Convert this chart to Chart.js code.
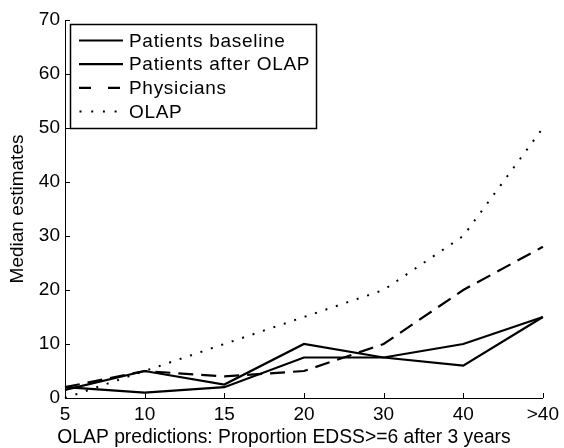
<!DOCTYPE html>
<html>
<head>
<meta charset="utf-8">
<script src="https://cdn.jsdelivr.net/npm/chart.js@4.4.0/dist/chart.umd.min.js"></script>
<style>
  body { margin: 0; background: #fff; }
  #wrap { position: relative; width: 564px; height: 448px; }
</style>
</head>
<body>
<div id="wrap"><canvas id="c"></canvas></div>
<script>
const categories = ['5', '10', '15', '20', '30', '40', '>40'];
const patientsBaseline = [1.5, 5, 2.5, 10, 7.5, 6, 15];
const patientsAfterOlap = [2, 1, 2, 7.5, 7.5, 10, 15];
const physicians = [2, 5, 4, 5, 10, 20, 28];
const olap = [0, 5, 10, 15, 20, 30, 50];
const yTicks = [0, 10, 20, 30, 40, 50, 60, 70];
const xTitle = 'OLAP predictions: Proportion EDSS>=6 after 3 years';

const FONT = 'Liberation Sans, Arial, Helvetica, sans-serif';

// inward ticks, matlab style
const innerTicks = {
  id: 'innerTicks',
  afterDraw(chart) {
    const ctx = chart.ctx;
    const x = chart.scales.x, y = chart.scales.y;
    const a = chart.chartArea;
    ctx.save();
    ctx.strokeStyle = '#000';
    ctx.lineWidth = 1;
    ctx.beginPath();
    x.ticks.forEach((t, i) => {
      const px = Math.round(x.getPixelForTick(i)) + 0.5;
      ctx.moveTo(px, a.bottom);
      ctx.lineTo(px, a.bottom - 5);
    });
    y.ticks.forEach((t, i) => {
      const py = Math.round(y.getPixelForTick(i)) + 0.5;
      ctx.moveTo(a.left, py);
      ctx.lineTo(a.left + 5, py);
    });
    ctx.stroke();

    // x title sits a bit left of the plot centre in the original
    ctx.font = '19.3px ' + FONT;
    ctx.fillStyle = '#000';
    ctx.textAlign = 'center';
    ctx.textBaseline = 'middle';
    ctx.fillText(xTitle, 284, 438);
    ctx.restore();
  }
};

// boxed legend in upper left
const boxLegend = {
  id: 'boxLegend',
  afterDraw(chart) {
    const ctx = chart.ctx;
    const left = 70, top = 24, w = 246, h = 104;
    const sampleDash = [[], [], [12, 17], [2, 9.7]];
    ctx.save();
    ctx.fillStyle = '#fff';
    ctx.fillRect(left, top, w, h);
    ctx.strokeStyle = '#000';
    ctx.lineWidth = 1.5;
    ctx.strokeRect(left + 0.5, top + 0.5, w, h);
    ctx.font = '19px ' + FONT;
    ctx.letterSpacing = '0.7px';
    ctx.textBaseline = 'middle';
    ctx.fillStyle = '#000';
    chart.data.datasets.forEach((ds, i) => {
      const yy = top + 16.5 + i * 23.7;
      ctx.beginPath();
      ctx.lineWidth = ds.borderWidth;
      ctx.setLineDash(sampleDash[i]);
      ctx.moveTo(i === 3 ? 79.5 : 79, yy);
      ctx.lineTo(123, yy);
      ctx.stroke();
      ctx.setLineDash([]);
      ctx.fillText(ds.label, 129, yy + 1);
    });
    ctx.restore();
  }
};

const line = (label, data, dash, width) => ({
  label, data,
  borderColor: '#000',
  borderWidth: width,
  borderDash: dash,
  pointRadius: 0,
  tension: 0,
  fill: false
});

new Chart(document.getElementById('c'), {
  type: 'line',
  data: {
    labels: categories,
    datasets: [
      line('Patients baseline', patientsBaseline, [], 2.2),
      line('Patients after OLAP', patientsAfterOlap, [], 2.2),
      line('Physicians', physicians, [15, 8], 2.2),
      line('OLAP', olap, [2, 9], 2)
    ]
  },
  options: {
    responsive: true,
    maintainAspectRatio: false,
    animation: false,
    layout: { padding: { top: 20, right: 17, left: 0, bottom: 0 } },
    plugins: { legend: { display: false }, tooltip: { enabled: false } },
    scales: {
      x: {
        offset: false,
        grid: { display: false, drawTicks: false },
        border: { display: true, color: '#000', width: 1 },
        ticks: { color: '#000', font: { family: FONT, size: 19 }, padding: 5, maxRotation: 0, autoSkip: false },
        afterFit(s) { s.height = 50; }
      },
      y: {
        min: 0,
        max: 70,
        afterBuildTicks(s) { s.ticks = yTicks.map(v => ({ value: v })); },
        grid: { display: false, drawTicks: false },
        border: { display: true, color: '#000', width: 1 },
        ticks: { color: '#000', font: { family: FONT, size: 19 }, padding: 5 },
        title: {
          display: true,
          text: 'Median estimates',
          color: '#000',
          font: { family: FONT, size: 19 },
          padding: { top: 6, bottom: 0 }
        },
        afterFit(s) { s.width = 65; }
      }
    }
  },
  plugins: [innerTicks, boxLegend]
});
</script>
</body>
</html>
